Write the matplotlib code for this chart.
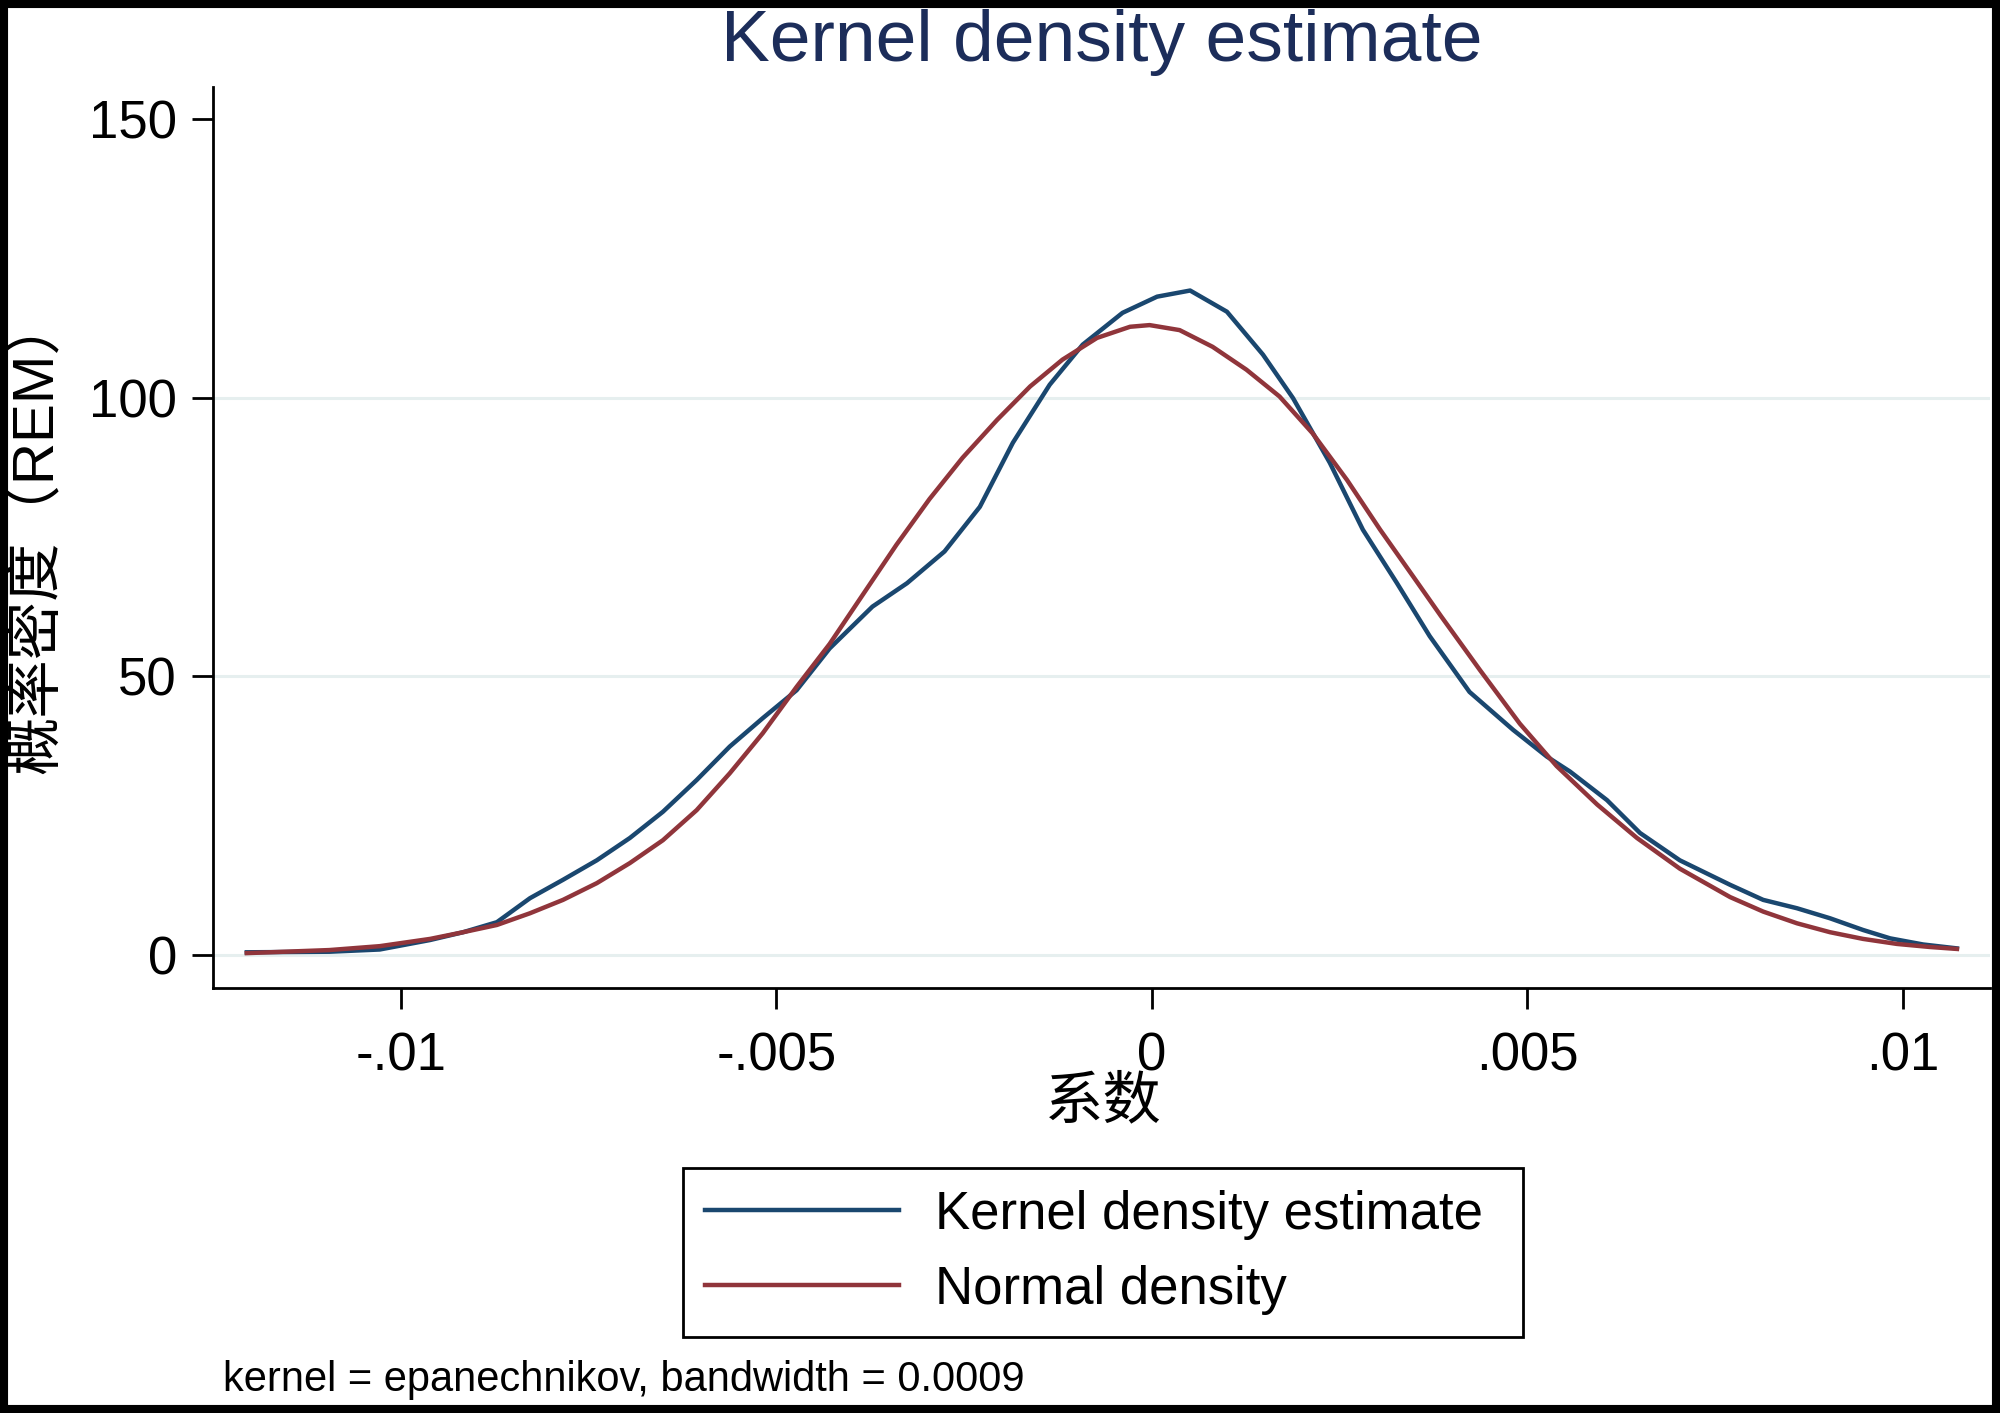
import numpy as np
import matplotlib.pyplot as plt
from matplotlib.patches import Rectangle

plt.rcParams['font.family'] = ['Liberation Sans', 'Noto Sans CJK SC', 'DejaVu Sans']

# values
kde_x = [-0.01205, -0.01095, -0.01028, -0.00961, -0.00917, -0.00872, -0.00828,
         -0.00784, -0.00739, -0.00695, -0.00651, -0.00606, -0.00562, -0.00518,
         -0.00473, -0.00429, -0.00372, -0.00326, -0.00276, -0.00229, -0.00185,
         -0.00136, -0.00092, -0.00039, 0.00007, 0.00051, 0.00100, 0.00148,
         0.00188, 0.00237, 0.00281, 0.00326, 0.00370, 0.00423, 0.00481,
         0.00526, 0.00557, 0.00606, 0.00650, 0.00703, 0.00770, 0.00814,
         0.00859, 0.00903, 0.00947, 0.00983, 0.01027, 0.01072]
kde_y = [0.5, 0.6, 1.0, 2.7, 4.1, 5.9, 10.2,
         13.5, 17.0, 21.0, 25.7, 31.4, 37.4, 42.5,
         47.5, 55.0, 62.5, 66.7, 72.4, 80.4, 91.9,
         102.3, 109.5, 115.2, 118.1, 119.2, 115.4, 107.7,
         99.9, 88.3, 76.3, 66.8, 57.2, 47.2, 40.4,
         35.6, 32.9, 27.8, 21.9, 17.0, 12.6, 9.9,
         8.4, 6.6, 4.5, 3.0, 1.9, 1.2]

norm_x = [-0.01205, -0.01095, -0.01028, -0.00961, -0.00917, -0.00872, -0.00828,
          -0.00784, -0.00739, -0.00695, -0.00651, -0.00606, -0.00562, -0.00518,
          -0.00473, -0.00429, -0.00385, -0.00340, -0.00296, -0.00252, -0.00206,
          -0.00162, -0.00119, -0.00073, -0.00029, -0.00003, 0.00037, 0.00081,
          0.00126, 0.00170, 0.00214, 0.00260, 0.00304, 0.00348, 0.00385,
          0.00437, 0.00490, 0.00539, 0.00593, 0.00646, 0.00703, 0.00770,
          0.00814, 0.00859, 0.00903, 0.00947, 0.00992, 0.01036, 0.01072]
norm_y = [0.35, 0.9, 1.6, 2.9, 4.1, 5.4, 7.5,
          9.9, 12.9, 16.5, 20.6, 26.0, 32.6, 39.8,
          48.1, 55.8, 64.6, 73.6, 81.8, 89.2, 96.0,
          102.0, 106.8, 110.7, 112.7, 113.0, 112.1, 109.1,
          105.0, 100.2, 93.6, 85.2, 76.3, 67.9, 60.8,
          51.1, 41.5, 33.9, 27.0, 21.0, 15.5, 10.4,
          7.8, 5.7, 4.1, 2.9, 2.0, 1.45, 1.1]

xticks = [-0.01, -0.005, 0, 0.005, 0.01]
xtick_labels = ['-.01', '-.005', '0', '.005', '.01']
yticks = [0, 50, 100, 150]
grid_y = [0, 50, 100]

navy = '#1A476F'
maroon = '#90353B'

fig = plt.figure(figsize=(10, 7.065), dpi=200)
ax = fig.add_axes([0.1065, 0.3008, 0.8885, 0.6376])

for g in grid_y:
    ax.axhline(g, color='#E6EFEF', lw=1.1, zorder=0)

ax.plot(kde_x, kde_y, color=navy, lw=1.6, label='Kernel density estimate')
ax.plot(norm_x, norm_y, color=maroon, lw=1.6, label='Normal density')

ax.set_xlim(-0.0125, 0.01116)
ax.set_ylim(-5.9, 155.7)
ax.set_xticks(xticks)
ax.set_xticklabels(xtick_labels)
ax.set_yticks(yticks)

for s in ['top', 'right']:
    ax.spines[s].set_visible(False)
for s in ['left', 'bottom']:
    ax.spines[s].set_linewidth(1.0)
ax.tick_params(axis='both', labelsize=19, width=1.0, length=7.5, direction='out')
ax.tick_params(axis='x', pad=8)
ax.tick_params(axis='y', pad=5.5)

fig.text(0.551, 0.957, 'Kernel density estimate', fontsize=26.4, color='#1C2D5A',
         ha='center', va='baseline')
fig.text(0.5515, 0.2195, '系数', fontsize=21, ha='center', va='center')
fig.text(0.0185, 0.622, '概率密度（REM）', fontsize=21, rotation=90,
         ha='center', va='center')
fig.text(0.1115, 0.0234, 'kernel = epanechnikov, bandwidth = 0.0009', fontsize=15,
         ha='left', va='center')

leg = ax.legend(loc='center', bbox_to_anchor=(0.3415, 0.0536, 0.42, 0.1203),
                bbox_transform=fig.transFigure, mode='expand', fontsize=19,
                frameon=True, fancybox=False, framealpha=1, edgecolor='black',
                handlelength=3.67, handletextpad=0.68, labelspacing=0.47,
                borderpad=0.42, borderaxespad=0)
leg.get_frame().set_linewidth(1.0)

fig.patches.append(Rectangle((0, 0), 1, 1, transform=fig.transFigure, fill=False,
                             edgecolor='black', linewidth=5.8))

fig.savefig('out.png', dpi=200)
